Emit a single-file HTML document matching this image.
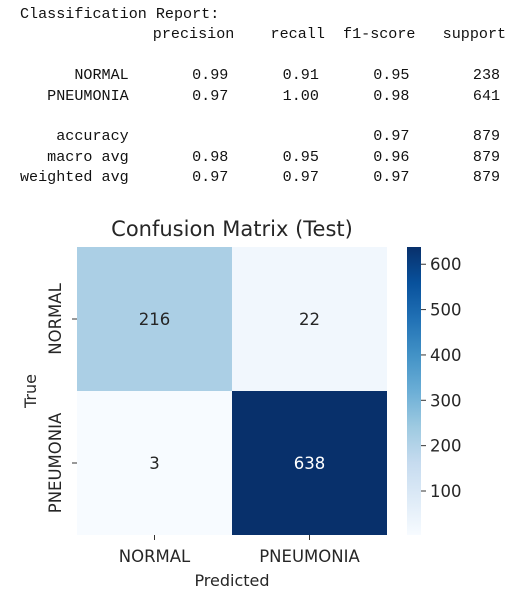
<!DOCTYPE html>
<html><head><meta charset="utf-8"><style>
body{margin:0;width:517px;height:602px;background:#fff;overflow:hidden}
pre{position:absolute;left:20px;top:4px;margin:0;font-family:"Liberation Mono",monospace;font-size:15.1px;line-height:20.4px;color:#111}
pre .h{position:relative;left:6px}
svg{position:absolute;left:0;top:0}
text{font-family:"DejaVu Sans",sans-serif;fill:#262626}
</style></head><body>
<pre>Classification Report:
<span class="h">              precision    recall  f1-score   support</span>

      NORMAL       0.99      0.91      0.95       238
   PNEUMONIA       0.97      1.00      0.98       641

    accuracy                           0.97       879
   macro avg       0.98      0.95      0.96       879
weighted avg       0.97      0.97      0.97       879</pre>
<svg id="c" width="517" height="602"></svg>
<script>
const classes=["NORMAL","PNEUMONIA"];
const row0=[216,22];
const row1=[3,638];
const cbTicks=[100,200,300,400,500,600];
const NS="http://www.w3.org/2000/svg";
const svg=document.getElementById('c');
function el(t,a,txt){const e=document.createElementNS(NS,t);for(const k in a)e.setAttribute(k,a[k]);if(txt!=null)e.textContent=txt;svg.appendChild(e);return e;}
const rows=[row0,row1];
const all=row0.concat(row1);
const vmin=Math.min(...all),vmax=Math.max(...all);
const L=77,T=247,W=310,H=288;
const cw=W/classes.length,ch=H/classes.length;
const stops=[[247,251,255],[222,235,247],[198,219,239],[158,202,225],[107,174,214],[66,146,198],[33,113,181],[8,81,156],[8,48,107]];
function blues(v){let t=(v-vmin)/(vmax-vmin);t=Math.max(0,Math.min(1,t))*(stops.length-1);const i=Math.min(Math.floor(t),stops.length-2),f=t-i;const c=stops[i].map((x,k)=>Math.round(x+(stops[i+1][k]-x)*f));return `rgb(${c})`;}
function lum(v){let t=(v-vmin)/(vmax-vmin);return t>0.5;}
rows.forEach((r,i)=>r.forEach((v,j)=>{
 const x=L+j*cw,y=T+i*ch;
 const rc=el('rect',{x:x,y:y,width:cw,height:ch,fill:blues(v)});
 
 
 const tx=el('text',{x:x+cw/2,y:y+ch/2+6,'text-anchor':'middle','font-size':16.5,style:lum(v)?'fill:#fff':''},v);
 
 
}));
classes.forEach((c,i)=>{
 const cx=L+i*cw+cw/2;
 el('line',{x1:cx,x2:cx,y1:T+H,y2:T+H+5,stroke:'#333'});
 const xl=el('text',{x:cx,y:T+H+27,'text-anchor':'middle','font-size':16.5},c);
 
 
 const cy=T+i*ch+ch/2;
 el('line',{x1:L-5,x2:L,y1:cy,y2:cy,stroke:'#333'});
 const yl=el('text',{x:0,y:0,'text-anchor':'middle','font-size':16.5,transform:`translate(${L-16},${cy}) rotate(-90)`},c);
 
 
});
const ttl=el('text',{x:L+W/2,y:236,'text-anchor':'middle','font-size':21},'Confusion Matrix (Test)');


const xt=el('text',{x:L+W/2,y:586,'text-anchor':'middle','font-size':16},'Predicted');


const yt=el('text',{x:0,y:0,'text-anchor':'middle','font-size':16,transform:`translate(36,${T+H/2}) rotate(-90)`},'True');


const CX=407,CW=14;
const g=el('defs',{});
const lg=document.createElementNS(NS,'linearGradient');lg.setAttribute('id','cb');lg.setAttribute('x1','0');lg.setAttribute('y1','1');lg.setAttribute('x2','0');lg.setAttribute('y2','0');
g.appendChild(lg);
stops.forEach((s,i)=>{const st=document.createElementNS(NS,'stop');st.setAttribute('offset',i/(stops.length-1));st.setAttribute('stop-color',`rgb(${s})`);lg.appendChild(st);});
const cb=el('rect',{x:CX,y:T,width:CW,height:H,fill:'url(#cb)'});


function cy(v){return T+H-(v-vmin)/(vmax-vmin)*H;}
cbTicks.forEach(v=>{
 el('line',{x1:CX+CW,x2:CX+CW+5,y1:cy(v),y2:cy(v),stroke:'#333'});
 const t=el('text',{x:CX+CW+9,y:cy(v)+6,'font-size':16.5},v);
 
 
});
</script>
</body></html>
